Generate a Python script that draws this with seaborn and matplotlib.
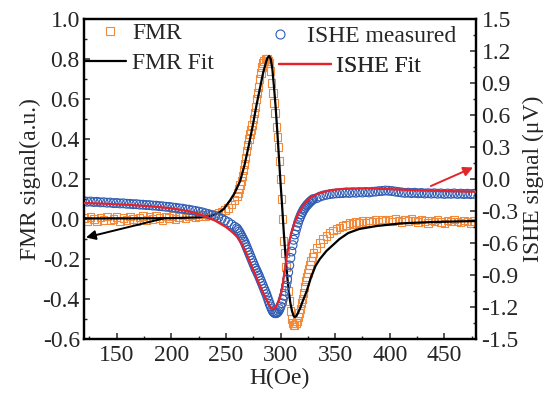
import matplotlib
matplotlib.use("Agg")
import matplotlib.pyplot as plt
from matplotlib.lines import Line2D
from matplotlib.ticker import MultipleLocator, FuncFormatter
import pandas as pd
import seaborn as sns

# ---- measured field sweep (Oe) ----
field_low = [120, 123, 126, 129, 132, 135, 138, 141, 144, 147, 150, 153, 156, 159, 162, 165,
             168, 171, 174, 177, 180, 183, 186, 189, 192, 195, 198, 201, 204, 207, 210, 213,
             216, 219, 222, 225, 228, 231, 234, 237, 240, 243, 246, 249, 252, 255, 258]
field_mid = [260, 261, 262, 263, 264, 265, 266, 267, 268, 269,
             270, 271, 272, 273, 274, 275, 276, 277, 278, 279,
             280, 281, 282, 283, 284, 285, 286, 287, 288, 289,
             290, 291, 292, 293, 294, 295, 296, 297, 298, 299,
             300, 301, 302, 303, 304, 305, 306, 307, 308, 309,
             310, 311, 312, 313, 314, 315, 316, 317, 318, 319,
             320, 321, 322, 323, 324, 325, 326, 327, 328, 329, 330]
field_high = [333, 336, 339, 342, 345, 348, 351, 354, 357, 360, 363, 366, 369, 372, 375, 378,
              381, 384, 387, 390, 393, 396, 399, 402, 405, 408, 411, 414, 417, 420, 423, 426,
              429, 432, 435, 438, 441, 444, 447, 450, 453, 456, 459, 462, 465, 468, 471, 474, 477]

# ---- FMR derivative signal (a.u.) ----
fmr_low = [0.005, -0.010, 0.010, 0.000, -0.012, 0.008, -0.005, 0.012, -0.008, 0.000,
           0.010, -0.010, 0.005, -0.005, 0.012, 0.000, -0.010, 0.008, 0.015, -0.005,
           0.010, 0.000, 0.015, 0.005, -0.008, 0.012, 0.005, 0.015, 0.000, 0.010,
           0.018, 0.005, 0.012, 0.020, 0.008, 0.015, 0.022, 0.012, 0.020, 0.025,
           0.020, 0.030, 0.038, 0.045, 0.055, 0.072, 0.095]
fmr_mid = [0.115, 0.13, 0.15, 0.17, 0.19, 0.215, 0.245, 0.275, 0.305, 0.34,
           0.37, 0.40, 0.425, 0.445, 0.47, 0.50, 0.53, 0.56, 0.60, 0.63,
           0.66, 0.70, 0.73, 0.76, 0.78, 0.79, 0.80, 0.80, 0.80, 0.79,
           0.78, 0.74, 0.68, 0.63, 0.58, 0.53, 0.46, 0.41, 0.36, 0.29,
           0.20, 0.10, 0.00, -0.11, -0.17, -0.24, -0.30, -0.36, -0.41, -0.46,
           -0.50, -0.52, -0.53, -0.53, -0.52, -0.51, -0.49, -0.47, -0.45, -0.42,
           -0.40, -0.37, -0.34, -0.31, -0.29, -0.27, -0.25, -0.23, -0.21, -0.19, -0.17]
fmr_high = [-0.145, -0.120, -0.100, -0.085, -0.070, -0.058, -0.050, -0.042, -0.035, -0.030,
            -0.020, -0.025, -0.015, -0.020, -0.010, -0.018, -0.008, -0.015, -0.005, -0.012,
            -0.002, -0.010, -0.004, -0.012, 0.000, -0.008, -0.015, -0.004, -0.010, 0.002,
            -0.008, -0.015, -0.003, -0.010, -0.020, -0.006, -0.012, -0.002, -0.015, -0.022,
            -0.008, -0.014, -0.004, -0.012, -0.018, -0.006, -0.012, -0.020, -0.010]

# ---- ISHE voltage (uV) ----
ishe_low = [-0.208, -0.213, -0.211, -0.216, -0.214, -0.219, -0.218, -0.222, -0.221, -0.226,
            -0.225, -0.229, -0.228, -0.232, -0.233, -0.236, -0.236, -0.240, -0.241, -0.244,
            -0.245, -0.249, -0.250, -0.254, -0.256, -0.260, -0.262, -0.267, -0.270, -0.275,
            -0.278, -0.284, -0.288, -0.294, -0.299, -0.306, -0.312, -0.321, -0.329, -0.339,
            -0.348, -0.361, -0.373, -0.389, -0.405, -0.426, -0.448]
ishe_mid = [-0.462, -0.478, -0.494, -0.510, -0.530, -0.550, -0.570, -0.590, -0.615, -0.640,
            -0.665, -0.690, -0.715, -0.740, -0.765, -0.790, -0.815, -0.840, -0.860, -0.883,
            -0.905, -0.930, -0.955, -0.980, -1.005, -1.030, -1.055, -1.080, -1.110, -1.140,
            -1.170, -1.195, -1.220, -1.240, -1.252, -1.258, -1.258, -1.252, -1.240, -1.220,
            -1.195, -1.165, -1.130, -1.095, -1.050, -1.000, -0.940, -0.875, -0.810, -0.740,
            -0.680, -0.620, -0.570, -0.520, -0.480, -0.445, -0.410, -0.380, -0.355, -0.330,
            -0.310, -0.290, -0.275, -0.260, -0.248, -0.236, -0.225, -0.215, -0.205, -0.196, -0.188]
ishe_high = [-0.180, -0.165, -0.155, -0.148, -0.142, -0.138, -0.135, -0.133, -0.132, -0.128,
             -0.131, -0.126, -0.129, -0.124, -0.127, -0.122, -0.126, -0.120, -0.118, -0.114,
             -0.112, -0.108, -0.110, -0.113, -0.118, -0.122, -0.126, -0.130, -0.128, -0.132,
             -0.129, -0.134, -0.131, -0.136, -0.133, -0.137, -0.134, -0.138, -0.135, -0.140,
             -0.136, -0.139, -0.135, -0.140, -0.137, -0.141, -0.138, -0.142, -0.139]

# ---- fitted curves ----
fmr_fit_field = [120, 160, 200, 225, 236, 243, 248, 254, 258, 263,
                 267, 271, 275, 278, 281, 284, 286.5, 288, 289.5, 291,
                 292.5, 294, 295.5, 297, 298.5, 300, 301.5, 303, 304.5, 306,
                 307.5, 309, 310.5, 312, 313, 314.5, 316, 318, 320, 324,
                 328, 332, 336, 342, 348, 354, 362, 372, 388, 410, 440, 479]
fmr_fit = [0.003, 0.003, 0.004, 0.008, 0.015, 0.03, 0.05, 0.095, 0.13, 0.19,
           0.27, 0.37, 0.48, 0.57, 0.65, 0.73, 0.78, 0.805, 0.815, 0.80,
           0.75, 0.66, 0.56, 0.44, 0.31, 0.18, 0.06, -0.07, -0.18, -0.28,
           -0.36, -0.42, -0.46, -0.485, -0.49, -0.485, -0.47, -0.445, -0.415, -0.36,
           -0.29, -0.235, -0.2, -0.16, -0.13, -0.1, -0.07, -0.05, -0.035, -0.022, -0.015, -0.01]

ishe_fit_field = [120, 140, 160, 180, 200, 215, 230, 240, 250, 256,
                  260, 264, 268, 272, 277, 282, 286, 289, 291, 292.5,
                  294, 296, 298, 300, 302, 304, 306, 308, 310, 313,
                  316, 320, 324, 328, 334, 340, 350, 360, 380, 400, 430, 460, 479]
ishe_fit = [-0.225, -0.232, -0.242, -0.255, -0.275, -0.30, -0.345, -0.39, -0.45, -0.50,
            -0.54, -0.60, -0.68, -0.78, -0.90, -1.02, -1.11, -1.17, -1.205, -1.22,
            -1.215, -1.19, -1.15, -1.10, -0.99, -0.85, -0.71, -0.59, -0.50, -0.41,
            -0.33, -0.26, -0.21, -0.17, -0.14, -0.12, -0.10, -0.09, -0.088, -0.095,
            -0.108, -0.115, -0.12]

measured = pd.DataFrame({
    "H": field_low + field_mid + field_high,
    "FMR": fmr_low + fmr_mid + fmr_high,
    "ISHE": ishe_low + ishe_mid + ishe_high,
})

sns.set_style("ticks")
plt.rcParams["font.family"] = ["Liberation Serif", "DejaVu Serif"]
plt.rcParams["axes.unicode_minus"] = False

ORANGE = "#F28A3C"
BLUE = "#2F5DB5"
RED = "#E5232B"
FS = 17

W, H = 556, 396
fig = plt.figure(figsize=(W / 100, H / 100), dpi=100)
ax = fig.add_axes([84 / W, 1 - 339 / H, (476 - 84) / W, (339 - 19) / H])
ax2 = ax.twinx()

# left axis: FMR data and fit
sns.scatterplot(data=measured, x="H", y="FMR", ax=ax, marker="s", s=28,
                facecolor="none", edgecolor=ORANGE, linewidth=0.8, legend=False, zorder=2)
sns.lineplot(x=fmr_fit_field, y=fmr_fit, ax=ax, color="black", linewidth=1.6, zorder=3)

# right axis: ISHE data and fit
sns.scatterplot(data=measured, x="H", y="ISHE", ax=ax2, marker="o", s=40,
                facecolor="none", edgecolor=BLUE, linewidth=0.8, legend=False, zorder=2)
sns.lineplot(x=ishe_fit_field, y=ishe_fit, ax=ax2, color=RED, linewidth=1.6, zorder=3)

ax.set_xlim(120, 479)
ax.set_ylim(-0.6, 1.0)
ax2.set_ylim(-1.5, 1.5)


def one_decimal(v, _pos):
    txt = f"{v:.1f}"
    return "0.0" if txt == "-0.0" else txt


ax.xaxis.set_major_locator(MultipleLocator(50))
ax.xaxis.set_minor_locator(MultipleLocator(25))
ax.yaxis.set_major_locator(MultipleLocator(0.2))
ax.yaxis.set_minor_locator(MultipleLocator(0.1))
ax.yaxis.set_major_formatter(FuncFormatter(one_decimal))
ax2.yaxis.set_major_locator(MultipleLocator(0.3))
ax2.yaxis.set_minor_locator(MultipleLocator(0.15))
ax2.yaxis.set_major_formatter(FuncFormatter(one_decimal))

for a in (ax, ax2):
    a.tick_params(which="major", direction="in", length=4.5, width=1.1, labelsize=FS)
    a.tick_params(which="minor", direction="in", length=2.5, width=1.0)
    for sp in a.spines.values():
        sp.set_linewidth(1.6)
        sp.set_color("black")
ax.tick_params(which="both", top=False, right=False)
ax.tick_params(axis="x", pad=4)
ax.tick_params(axis="y", pad=3)
ax2.tick_params(which="both", left=False, top=False, pad=4)

ax.set_xlabel("H(Oe)", fontsize=FS, labelpad=2)
ax.set_ylabel("FMR signal(a.u.)", fontsize=FS, labelpad=1)
ax2.set_ylabel("ISHE signal (μV)", fontsize=FS, labelpad=3)

# arrows pointing to the corresponding axes
ax.annotate("", xy=(121.8, -0.0925), xytext=(193, 0.003),
            arrowprops=dict(arrowstyle="-|>", color="black", lw=1.4,
                            mutation_scale=14, shrinkA=0, shrinkB=0))
ax2.annotate("", xy=(476.3, 0.108), xytext=(437.7, -0.066),
             arrowprops=dict(arrowstyle="-|>", color=RED, lw=1.4,
                             mutation_scale=14, shrinkA=0, shrinkB=0))

# legend entries
entries = [
    (Line2D([], [], ls="none", marker="s", ms=5.5, mfc="none", mec=ORANGE, mew=0.8),
     "FMR", 99, 33, 0.95, 0.45),
    (Line2D([], [], color="black", lw=1.6), "FMR Fit", 85, 63, 1.75, 0.25),
    (Line2D([], [], ls="none", marker="o", ms=6.5, mfc="none", mec=BLUE, mew=0.8),
     "ISHE measured", 269, 36, 0.95, 0.65),
    (Line2D([], [], color=RED, lw=1.6), "ISHE Fit", 279, 66, 2.2, 0.2),
]
for handle, label, x0, y0, hl, tp in entries:
    leg = ax2.legend([handle], [label], loc="center left",
                     bbox_to_anchor=(x0 / W, 1 - y0 / H), bbox_transform=fig.transFigure,
                     frameon=False, fontsize=FS, handlelength=hl, handletextpad=tp,
                     borderpad=0, borderaxespad=0, numpoints=1)
    ax2.add_artist(leg)

fig.savefig("out.png", dpi=100)
